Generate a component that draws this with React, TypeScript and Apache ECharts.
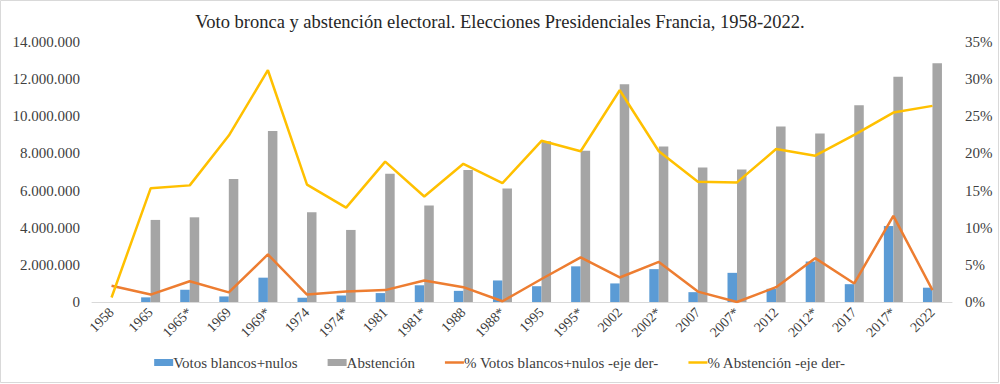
import React, { useEffect, useRef } from "react";
import * as echarts from "echarts";

const categories = ["1958","1965","1965*","1969","1969*","1974","1974*","1981","1981*","1988","1988*","1995","1995*","2002","2002*","2007","2007*","2012","2012*","2017","2017*","2022"];
const blancosNulos = [null,250000,660000,300000,1310000,230000,350000,480000,900000,600000,1160000,850000,1920000,1000000,1770000,530000,1570000,710000,2180000,960000,4090000,770000];
const abstencion = [null,4420000,4560000,6620000,9210000,4830000,3880000,6910000,5190000,7110000,6110000,8660000,8140000,11720000,8370000,7240000,7130000,9450000,9070000,10600000,12130000,12850000];
const pctBlancosNulos = [2.2,1.0,2.8,1.3,6.4,1.0,1.4,1.6,2.9,2.0,0.1,3.1,6.0,3.3,5.4,1.4,0.0,2.0,5.9,2.5,11.6,1.6];
const pctAbstencion = [0.6,15.3,15.7,22.4,31.2,15.8,12.7,18.9,14.2,18.6,16.0,21.7,20.3,28.5,20.3,16.2,16.1,20.6,19.7,22.5,25.5,26.4];
const leftTicks = [0, 2000000, 14000000];
const title = "Voto bronca y abstención electoral. Elecciones Presidenciales Francia, 1958-2022.";

const FONT = "'Liberation Serif', 'DejaVu Serif', serif";
const LINE_ICON = "path://M0,0 L19,0 L19,2.5 L0,2.5 Z";

function fmtThousands(v: number): string {
  return String(Math.round(v)).replace(/\B(?=(\d{3})+(?!\d))/g, ".");
}

export default function App() {
  const ref = useRef<HTMLDivElement>(null);
  useEffect(() => {
    if (!ref.current) return;
    const chart = echarts.init(ref.current, null, { renderer: "svg" });
    chart.setOption({
      animation: false,
      backgroundColor: "#ffffff",
      textStyle: { fontFamily: FONT },
      title: {
        text: title,
        left: "center",
        top: 7,
        textStyle: { fontFamily: FONT, fontSize: 18.5, fontWeight: "normal", color: "#262626" },
      },
      grid: { left: 92, right: 48, top: 42, bottom: 82 },
      legend: {
        bottom: 9,
        left: "center",
        itemGap: 30,
        itemWidth: 19,
        itemHeight: 7,
        textStyle: { fontFamily: FONT, fontSize: 15, color: "#404040", padding: [0, 0, 0, -5] },
        data: [
          { name: "Votos blancos+nulos", icon: "rect" },
          { name: "Abstención", icon: "rect" },
          { name: "% Votos blancos+nulos -eje der-", icon: LINE_ICON },
          { name: "% Abstención -eje der-", icon: LINE_ICON },
        ],
      },
      xAxis: {
        type: "category",
        data: categories,
        axisLine: { lineStyle: { color: "#D9D9D9", width: 1 } },
        axisTick: { show: false },
        axisLabel: { rotate: 45, interval: 0, fontFamily: FONT, fontSize: 14, color: "#404040", margin: 8 },
      },
      yAxis: [
        {
          type: "value",
          min: leftTicks[0],
          max: leftTicks[2],
          interval: leftTicks[1],
          splitLine: { show: false },
          axisLine: { show: false },
          axisTick: { show: false },
          axisLabel: { fontFamily: FONT, fontSize: 15, color: "#404040", margin: 12, formatter: (v: number) => fmtThousands(v) },
        },
        {
          type: "value",
          min: 0,
          max: 35,
          interval: 5,
          splitLine: { show: false },
          axisLine: { show: false },
          axisTick: { show: false },
          axisLabel: { fontFamily: FONT, fontSize: 15, color: "#404040", margin: 13, formatter: (v: number) => v + "%" },
        },
      ],
      series: [
        { name: "Votos blancos+nulos", type: "bar", data: blancosNulos, barWidth: 9.5, barGap: "0%", itemStyle: { color: "#5B9BD5" } },
        { name: "Abstención", type: "bar", data: abstencion, barWidth: 9.5, barGap: "0%", itemStyle: { color: "#A5A5A5" } },
        { name: "% Votos blancos+nulos -eje der-", type: "line", yAxisIndex: 1, data: pctBlancosNulos, symbol: "none", lineStyle: { color: "#ED7D31", width: 2.5 }, itemStyle: { color: "#ED7D31" } },
        { name: "% Abstención -eje der-", type: "line", yAxisIndex: 1, data: pctAbstencion, symbol: "none", lineStyle: { color: "#FFC000", width: 2.5 }, itemStyle: { color: "#FFC000" } },
      ],
      graphic: [
        { type: "rect", shape: { x: 0.5, y: 0.5, width: 998, height: 382 }, style: { fill: "none", stroke: "#D9D9D9", lineWidth: 1 }, silent: true },
      ],
    });
    return () => chart.dispose();
  }, []);
  return <div ref={ref} style={{ position: "fixed", left: 0, top: 0, width: 1000, height: 384 }} />;
}
